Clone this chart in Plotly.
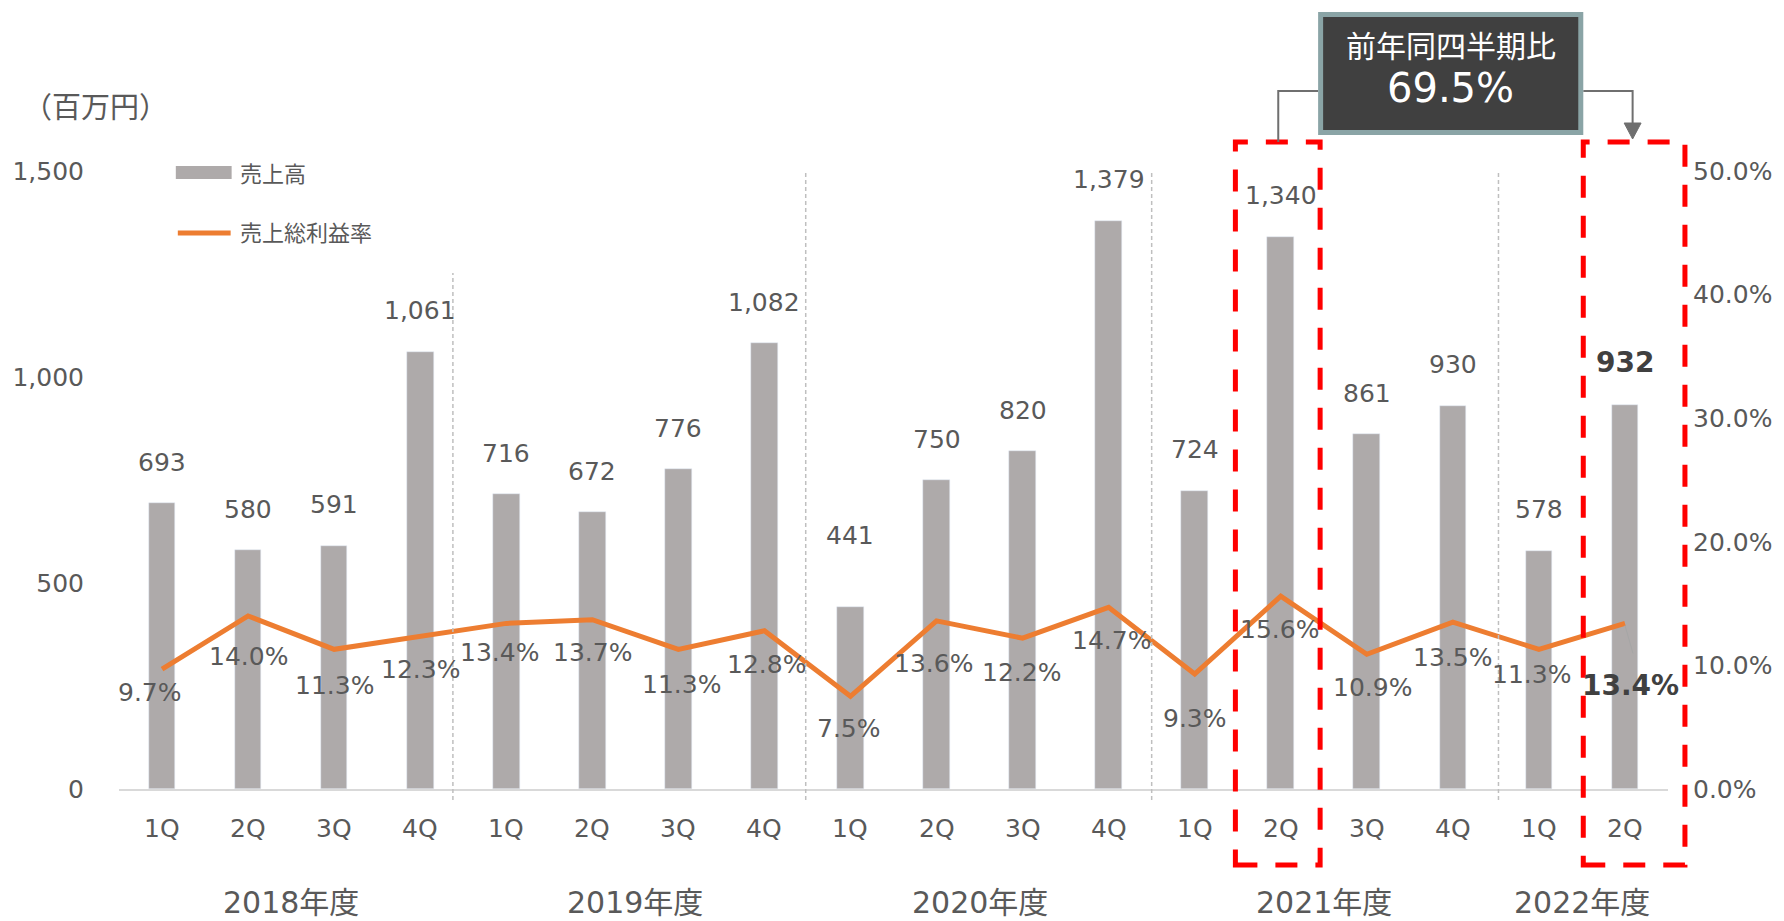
import plotly.graph_objects as go

# ---------------- data ----------------
quarters = ["1Q", "2Q", "3Q", "4Q", "1Q", "2Q", "3Q", "4Q", "1Q", "2Q", "3Q", "4Q",
            "1Q", "2Q", "3Q", "4Q", "1Q", "2Q"]
fiscal_years = ["2018年度", "2019年度", "2020年度", "2021年度", "2022年度"]
year_sizes = [4, 4, 4, 4, 2]
sales = [693, 580, 591, 1061, 716, 672, 776, 1082, 441, 750, 820, 1379, 724, 1340, 861, 930, 578, 932]
margin_pct = [9.7, 14.0, 11.3, 12.3, 13.4, 13.7, 11.3, 12.8, 7.5, 13.6, 12.2, 14.7, 9.3, 15.6, 10.9, 13.5, 11.3, 13.4]
left_ticks = [0, 500, 1000, 1500]
right_ticks = [0, 10, 20, 30, 40, 50]
yoy_text = "69.5%"

# ---------------- layout geometry (pixels) ----------------
W, H = 1784, 921
L, R, T, B = 118, 1672, 171, 789

def px(x):
    return (x - L) / (R - L)

def py(y):
    return (B - y) / (B - T)

FONT = "DejaVu Sans, Noto Sans CJK JP, sans-serif"
TXT = "#595959"
BAR = "#AEAAAA"
ORANGE = "#ED7D31"
RED = "#FF0000"

n = len(sales)
xs = list(range(n))

fig = go.Figure()
fig.add_trace(go.Bar(x=xs, y=sales, marker_color=BAR, width=0.31, yaxis="y",
                     hoverinfo="skip"))
fig.add_trace(go.Scatter(x=xs, y=margin_pct, mode="lines", yaxis="y2",
                         line=dict(color=ORANGE, width=5), hoverinfo="skip"))

ann = []
shapes = []

def text_ann(**kw):
    kw.setdefault("showarrow", False)
    kw.setdefault("xanchor", "center")
    kw.setdefault("yanchor", "middle")
    ann.append(kw)

# bar value labels
last = n - 1
for i, v in enumerate(sales):
    shift = 72 if i == 8 else 41
    bold = i == last
    text_ann(x=i, y=v, xref="x", yref="y", text=(f"<b>{v:,}</b>" if bold else f"{v:,}"),
             yshift=shift + (2 if bold else 0),
             font=dict(size=28 if bold else 25, color="#404040" if bold else TXT, family=FONT))

# percentage labels (offset below the line points)
pct_dx = [-12, 0, 0, 0, -7, 0, 3, 2, -1, -3, -1, 3, 0, -1, 6, 0, -7, 6]
pct_dy = [23, 41, 36, 33, 29, 33, 35, 34, 32, 43, 34, 33, 44, 33, 33, 35, 25, 62]
for i, v in enumerate(margin_pct):
    bold = i == last
    text_ann(x=i, y=v, xref="x", yref="y2", text=(f"<b>{v:.1f}%</b>" if bold else f"{v:.1f}%"),
             xshift=pct_dx[i], yshift=-pct_dy[i],
             font=dict(size=28 if bold else 25, color="#404040" if bold else TXT, family=FONT))

# leader line for last label
shapes.append(dict(type="line", xref="x", yref="y2", xsizemode="pixel", ysizemode="pixel",
                   xanchor=last, yanchor=margin_pct[last], x0=0, y0=-2, x1=8, y1=-30,
                   line=dict(color="#A6A6A6", width=1)))

# quarter labels
for i, q in enumerate(quarters):
    text_ann(x=i, y=py(829), xref="x", yref="paper", text=q,
             font=dict(size=25, color=TXT, family=FONT))

# fiscal year labels
start = 0
for name, sz in zip(fiscal_years, year_sizes):
    text_ann(x=start + (sz - 1) / 2, y=py(902), xref="x", yref="paper", text=name,
             font=dict(size=30, color=TXT, family=FONT))
    start += sz

# year separators
sep_x = [3.38, 7.48, 11.5, 15.53]
sep_top = [273, 171, 171, 171]
for sx, st in zip(sep_x, sep_top):
    shapes.append(dict(type="line", xref="x", yref="paper", x0=sx, x1=sx, y0=py(800), y1=py(st),
                       line=dict(color="#BFBFBF", width=1.5, dash="4px,3px")))

# unit label
text_ann(x=px(94), y=py(108), xref="paper", yref="paper", text="（百万円）",
         font=dict(size=29, color=TXT, family=FONT))

# manual legend
shapes.append(dict(type="rect", xref="paper", yref="paper", x0=px(175), x1=px(231), y0=py(179), y1=py(166),
                   fillcolor=BAR, line=dict(width=0)))
shapes.append(dict(type="line", xref="paper", yref="paper", x0=px(177), x1=px(230), y0=py(233), y1=py(233),
                   line=dict(color=ORANGE, width=5)))
text_ann(x=px(237), y=py(174), xref="paper", yref="paper", text="売上高", xanchor="left",
         font=dict(size=22, color=TXT, family=FONT))
text_ann(x=px(237), y=py(233), xref="paper", yref="paper", text="売上総利益率", xanchor="left",
         font=dict(size=22, color=TXT, family=FONT))

# red dashed highlight boxes
for x0, x1 in [(1238, 1323), (1587, 1689)]:
    shapes.append(dict(type="rect", xref="paper", yref="paper", x0=px(x0), x1=px(x1), y0=py(865), y1=py(142),
                       line=dict(color=RED, width=5, dash="22px,18px")))

# callout connectors
shapes.append(dict(type="path", xref="paper", yref="paper",
                   path=f"M {px(1321)},{py(91)} L {px(1281)},{py(91)} L {px(1281)},{py(142)}",
                   line=dict(color="#6F6F6F", width=2)))
shapes.append(dict(type="path", xref="paper", yref="paper",
                   path=f"M {px(1587)},{py(91)} L {px(1636.5)},{py(91)} L {px(1636.5)},{py(124)}",
                   line=dict(color="#6F6F6F", width=2)))
shapes.append(dict(type="path", xref="paper", yref="paper",
                   path=f"M {px(1628)},{py(123)} L {px(1645)},{py(123)} L {px(1636.5)},{py(139)} Z",
                   fillcolor="#6F6F6F", line=dict(color="#6F6F6F", width=1)))

# callout box
shapes.append(dict(type="rect", xref="paper", yref="paper", x0=px(1323.5), x1=px(1584.5),
                   y0=py(132.5), y1=py(14.5), fillcolor="#404040", line=dict(color="#8AA4A6", width=5)))
text_ann(x=px(1454), y=py(47), xref="paper", yref="paper", text="前年同四半期比",
         font=dict(size=30, color="white", family=FONT))
text_ann(x=px(1454), y=py(88), xref="paper", yref="paper", text=yoy_text,
         font=dict(size=40, color="white", family=FONT))

fig.update_layout(
    width=W, height=H,
    margin=dict(l=L, r=W - R, t=T, b=H - B, pad=0),
    paper_bgcolor="white", plot_bgcolor="white",
    showlegend=False,
    font=dict(family=FONT, color=TXT, size=25),
    xaxis=dict(range=[-0.5, n - 0.5], showticklabels=False, ticks="", showgrid=False,
               zeroline=False, showline=True, linecolor="#D9D9D9", linewidth=2),
    yaxis=dict(range=[0, 1500], tickvals=left_ticks, tickformat=",", showgrid=False, zeroline=False,
               showline=False, ticks="", ticklabelstandoff=34, tickfont=dict(size=25, color=TXT)),
    yaxis2=dict(range=[0, 50], overlaying="y", side="right", tickvals=right_ticks,
                ticktext=[f"{t:.1f}%" for t in right_ticks], showgrid=False, zeroline=False,
                showline=False, ticks="", ticklabelstandoff=24, tickfont=dict(size=25, color=TXT)),
    bargap=0,
    annotations=ann,
    shapes=shapes,
)

fig.write_html("out.html")
